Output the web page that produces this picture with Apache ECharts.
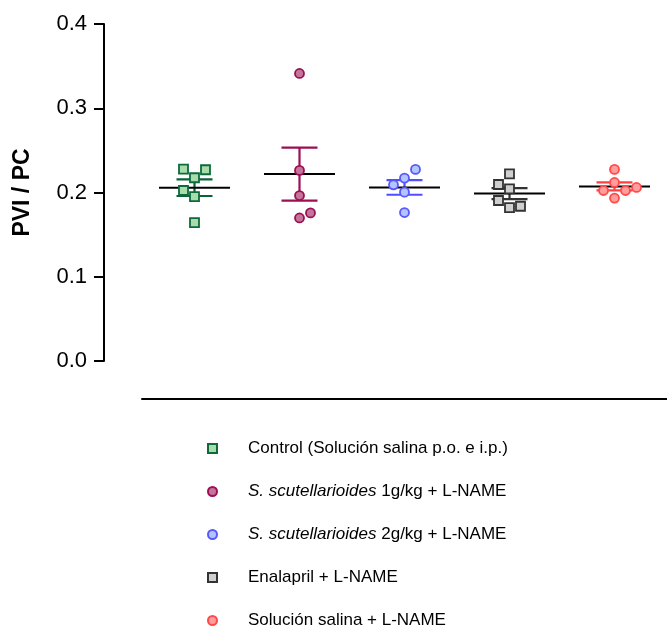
<!DOCTYPE html>
<html><head><meta charset="utf-8">
<script src="https://cdn.jsdelivr.net/npm/echarts@6/dist/echarts.min.js"></script>
<style>html,body{margin:0;padding:0;background:#fff}#c{width:667px;height:627px}</style>
</head><body><div id="c"></div>
<script>
// ---- data ----
const categories = ['Control', 'Ss1', 'Ss2', 'Enalapril', 'Salina'];
const seriesNames = [
  'Control (Solución salina p.o. e i.p.)',
  'S. scutellarioides 1g/kg + L-NAME',
  'S. scutellarioides 2g/kg + L-NAME',
  'Enalapril + L-NAME',
  'Solución salina + L-NAME'
];
const controlValues   = [0.2277, 0.2270, 0.2175, 0.2024, 0.1952, 0.1643];
const ss1Values       = [0.3413, 0.2262, 0.1964, 0.1758, 0.1698];
const ss2Values       = [0.2274, 0.2171, 0.2091, 0.2004, 0.1762];
const enalaprilValues = [0.2222, 0.2095, 0.2044, 0.1905, 0.1821, 0.1837];
const salinaValues    = [0.2274, 0.2119, 0.2060, 0.2024, 0.2024, 0.1933];
const yTicks = [0.0, 0.1, 0.2, 0.3, 0.4];

// ---- layout/style (not data) ----
const jitterColumns = [
  [-1, 1, 0, -1, 0, 0],
  [0, 0, 0, 1, 0],
  [1, 0, -1, 0, 0],
  [0, -1, 0, -1, 0, 1],
  [0, 0, 2, -1, 1, 0]
];
const styles = [
  {symbol: 'rect',   border: '#0e6a3c', fill: '#a9dcab', bar: '#0a6236'},
  {symbol: 'circle', border: '#9b0f55', fill: '#c57599', bar: '#9b0f55'},
  {symbol: 'circle', border: '#5858ff', fill: '#b3c4ff', bar: '#4f4fff'},
  {symbol: 'rect',   border: '#333333', fill: '#cfcfcf', bar: '#333333'},
  {symbol: 'circle', border: '#ff4a4a', fill: '#ff9c9c', bar: '#ff4040'}
];
const allValues = [controlValues, ss1Values, ss2Values, enalaprilValues, salinaValues];
const COL = 11;
const FONT = 'Liberation Sans, Arial, sans-serif';

function meanSem(a) {
  const n = a.length, m = a.reduce((s, v) => s + v, 0) / n;
  const sd = Math.sqrt(a.reduce((s, v) => s + (v - m) * (v - m), 0) / (n - 1));
  return [m, sd / Math.sqrt(n)];
}

const series = [];
allValues.forEach((vals, gi) => {
  const [m, sem] = meanSem(vals);
  series.push({
    type: 'custom',
    name: 'bar' + gi,
    z: 2,
    silent: true,
    data: [[gi, m, m - sem, m + sem]],
    renderItem: function (params, api) {
      const x = api.coord([api.value(0), api.value(1)])[0];
      const ym = api.coord([api.value(0), api.value(1)])[1];
      const yl = api.coord([api.value(0), api.value(2)])[1];
      const yh = api.coord([api.value(0), api.value(3)])[1];
      const c = styles[gi].bar;
      const lw = 2.2;
      return {
        type: 'group',
        children: [
          {type: 'line', shape: {x1: x, y1: yl, x2: x, y2: yh}, style: {stroke: c, lineWidth: lw}},
          {type: 'line', shape: {x1: x - 18, y1: yl, x2: x + 18, y2: yl}, style: {stroke: c, lineWidth: lw}},
          {type: 'line', shape: {x1: x - 18, y1: yh, x2: x + 18, y2: yh}, style: {stroke: c, lineWidth: lw}},
          {type: 'line', shape: {x1: x - 35.5, y1: ym, x2: x + 35.5, y2: ym}, style: {stroke: '#000', lineWidth: 2}}
        ]
      };
    }
  });
});
allValues.forEach((vals, gi) => {
  const st = styles[gi];
  series.push({
    type: 'scatter',
    name: seriesNames[gi],
    z: 3,
    symbol: st.symbol,
    symbolSize: 9,
    itemStyle: {color: st.fill, borderColor: st.border, borderWidth: 1.8, opacity: 1},
    data: vals.map((v, i) => ({
      value: [categories[gi], v],
      symbolOffset: [jitterColumns[gi][i] * COL, 0]
    }))
  });
});

const chart = echarts.init(document.getElementById('c'), null, {renderer: 'canvas'});
chart.setOption({
  animation: false,
  backgroundColor: '#fff',
  textStyle: {fontFamily: FONT},
  grid: {left: 142, right: -4, top: 24, bottom: 266, containLabel: false},
  xAxis: {
    type: 'category',
    data: categories,
    offset: 38,
    axisLine: {show: true, onZero: false, lineStyle: {color: '#000', width: 2}},
    axisTick: {show: false},
    axisLabel: {show: false},
    splitLine: {show: false}
  },
  yAxis: {
    type: 'value',
    min: yTicks[0],
    max: yTicks[yTicks.length - 1],
    interval: 0.1,
    offset: 38,
    name: 'PVI / PC',
    nameLocation: 'middle',
    nameRotate: 90,
    nameGap: 70,
    nameTextStyle: {fontSize: 23, fontWeight: 'bold', color: '#000', fontFamily: FONT},
    axisLine: {show: true, onZero: false, lineStyle: {color: '#000', width: 2}},
    axisTick: {show: true, length: 10, lineStyle: {color: '#000', width: 2}},
    axisLabel: {fontSize: 22, color: '#000', margin: 17, formatter: v => v.toFixed(1), fontFamily: FONT},
    splitLine: {show: false}
  },
  legend: {
    orient: 'vertical',
    left: 207,
    top: 440,
    height: 400,
    padding: 0,
    itemWidth: 9,
    itemHeight: 9,
    itemGap: 26,
    data: seriesNames,
    textStyle: {
      fontSize: 17, color: '#000', lineHeight: 16, padding: [0, 0, 0, 26],
      fontFamily: FONT,
      rich: {i: {fontStyle: 'italic', fontSize: 17, color: '#000', lineHeight: 16, fontFamily: FONT}}
    },
    formatter: function (name) {
      const sp = 'S. scutellarioides';
      if (name.indexOf(sp) === 0) return '{i|' + sp + '}' + name.slice(sp.length);
      return name;
    }
  },
  series: series
});
</script></body></html>
